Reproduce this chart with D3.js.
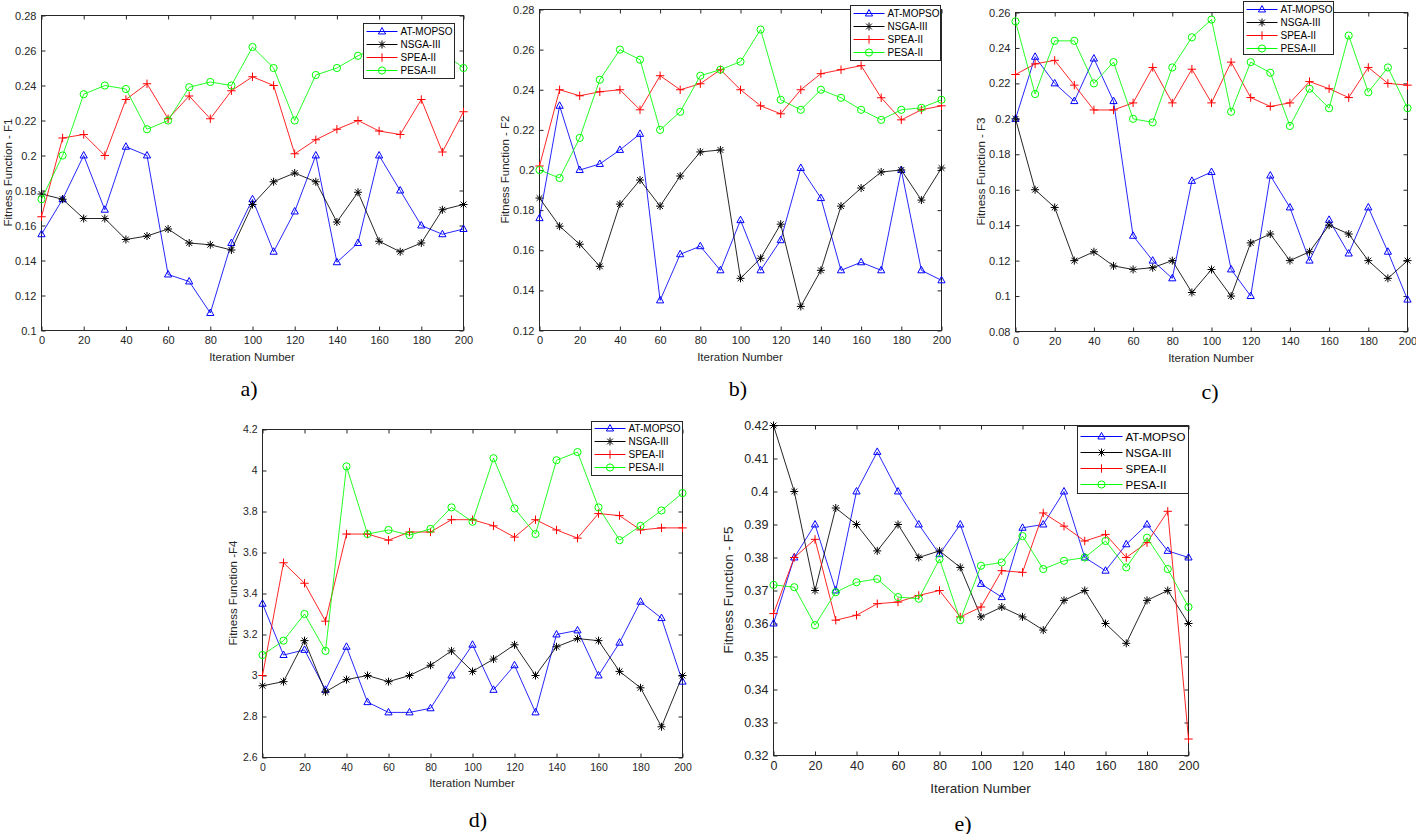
<!DOCTYPE html>
<html>
<head>
<meta charset="utf-8">
<script src="https://cdn.jsdelivr.net/npm/d3@7/dist/d3.min.js"></script>
<style>
  body { margin: 0; background: #fff; }
  svg { display: block; font-family: "Liberation Sans", Arial, sans-serif; }
</style>
</head>
<body>
<svg id="chart" width="1416" height="834"></svg>
<script>
// x axis: iteration numbers
var iterations = [0, 10, 20, 30, 40, 50, 60, 70, 80, 90, 100, 110, 120, 130, 140, 150, 160, 170, 180, 190, 200];
var xTicks = [0, 20, 40, 60, 80, 100, 120, 140, 160, 180, 200];

var seriesNames = ["AT-MOPSO", "NSGA-III", "SPEA-II", "PESA-II"];
var seriesColors = ["#0000ff", "#000000", "#ff0000", "#00ff00"];
var seriesMarkers = ["triangle", "asterisk", "plus", "circle"];

// a) F1
var f1AtMopso = [0.155, 0.175, 0.2, 0.169, 0.205, 0.2, 0.132, 0.128, 0.11, 0.15, 0.175, 0.145, 0.168, 0.2, 0.139, 0.15, 0.2, 0.18, 0.16, 0.155, 0.158];
var f1Nsga = [0.178, 0.175, 0.164, 0.164, 0.152, 0.154, 0.158, 0.15, 0.149, 0.146, 0.172, 0.185, 0.19, 0.185, 0.162, 0.179, 0.151, 0.145, 0.15, 0.169, 0.172];
var f1Spea = [0.165, 0.21, 0.212, 0.2, 0.232, 0.241, 0.221, 0.234, 0.221, 0.237, 0.245, 0.24, 0.201, 0.209, 0.215, 0.22, 0.214, 0.212, 0.232, 0.202, 0.225];
var f1Pesa = [0.175, 0.2, 0.235, 0.24, 0.238, 0.215, 0.22, 0.239, 0.242, 0.24, 0.262, 0.25, 0.22, 0.246, 0.25, 0.257, 0.262, 0.256, 0.26, 0.259, 0.25];
var f1Ticks = [0.1, 0.12, 0.14, 0.16, 0.18, 0.2, 0.22, 0.24, 0.26, 0.28];

// b) F2
var f2AtMopso = [0.176, 0.232, 0.2, 0.203, 0.21, 0.218, 0.135, 0.158, 0.162, 0.15, 0.175, 0.15, 0.165, 0.201, 0.186, 0.15, 0.154, 0.15, 0.2, 0.15, 0.145];
var f2Nsga = [0.186, 0.172, 0.163, 0.152, 0.183, 0.195, 0.182, 0.197, 0.209, 0.21, 0.146, 0.156, 0.173, 0.132, 0.15, 0.182, 0.191, 0.199, 0.2, 0.185, 0.201];
var f2Spea = [0.202, 0.24, 0.237, 0.239, 0.24, 0.23, 0.247, 0.24, 0.243, 0.25, 0.24, 0.232, 0.228, 0.24, 0.248, 0.25, 0.252, 0.236, 0.225, 0.23, 0.232];
var f2Pesa = [0.2, 0.196, 0.216, 0.245, 0.26, 0.255, 0.22, 0.229, 0.247, 0.25, 0.254, 0.27, 0.235, 0.23, 0.24, 0.236, 0.23, 0.225, 0.23, 0.231, 0.235];
var f2Ticks = [0.12, 0.14, 0.16, 0.18, 0.2, 0.22, 0.24, 0.26, 0.28];

// c) F3
var f3AtMopso = [0.2, 0.235, 0.22, 0.21, 0.234, 0.21, 0.134, 0.12, 0.11, 0.165, 0.17, 0.115, 0.1, 0.168, 0.15, 0.12, 0.143, 0.124, 0.15, 0.125, 0.098];
var f3Nsga = [0.2, 0.16, 0.15, 0.12, 0.125, 0.117, 0.115, 0.116, 0.12, 0.102, 0.115, 0.1, 0.13, 0.135, 0.12, 0.125, 0.14, 0.135, 0.12, 0.11, 0.12];
var f3Spea = [0.225, 0.231, 0.233, 0.219, 0.205, 0.205, 0.209, 0.229, 0.209, 0.228, 0.209, 0.232, 0.212, 0.207, 0.209, 0.221, 0.217, 0.212, 0.229, 0.22, 0.219];
var f3Pesa = [0.255, 0.214, 0.244, 0.244, 0.22, 0.232, 0.2, 0.198, 0.229, 0.246, 0.256, 0.204, 0.232, 0.226, 0.196, 0.217, 0.206, 0.247, 0.215, 0.229, 0.206];
var f3Ticks = [0.08, 0.1, 0.12, 0.14, 0.16, 0.18, 0.2, 0.22, 0.24, 0.26];

// d) F4
var f4AtMopso = [3.35, 3.1, 3.125, 2.93, 3.14, 2.87, 2.82, 2.82, 2.84, 3.0, 3.15, 2.93, 3.05, 2.82, 3.2, 3.22, 3.0, 3.16, 3.36, 3.28, 2.97];
var f4Nsga = [2.95, 2.97, 3.17, 2.92, 2.98, 3.0, 2.97, 3.0, 3.05, 3.12, 3.02, 3.08, 3.15, 3.0, 3.14, 3.18, 3.17, 3.02, 2.94, 2.75, 3.0];
var f4Spea = [3.0, 3.55, 3.45, 3.265, 3.69, 3.69, 3.66, 3.7, 3.7, 3.76, 3.76, 3.73, 3.675, 3.76, 3.71, 3.67, 3.79, 3.78, 3.71, 3.72, 3.72];
var f4Pesa = [3.1, 3.17, 3.3, 3.12, 4.02, 3.69, 3.71, 3.685, 3.715, 3.82, 3.75, 4.06, 3.815, 3.69, 4.05, 4.09, 3.82, 3.66, 3.73, 3.805, 3.89];
var f4Ticks = [2.6, 2.8, 3, 3.2, 3.4, 3.6, 3.8, 4, 4.2];

// e) F5
var f5AtMopso = [0.36, 0.38, 0.39, 0.37, 0.4, 0.412, 0.4, 0.39, 0.381, 0.39, 0.372, 0.368, 0.389, 0.39, 0.4, 0.38, 0.376, 0.384, 0.39, 0.382, 0.38];
var f5Nsga = [0.42, 0.4, 0.37, 0.395, 0.39, 0.382, 0.39, 0.38, 0.382, 0.377, 0.362, 0.365, 0.362, 0.358, 0.367, 0.37, 0.36, 0.354, 0.367, 0.37, 0.36];
var f5Spea = [0.363, 0.38, 0.3855, 0.361, 0.3625, 0.366, 0.3665, 0.3685, 0.37, 0.362, 0.365, 0.376, 0.3755, 0.3935, 0.3895, 0.385, 0.387, 0.38, 0.3845, 0.394, 0.325];
var f5Pesa = [0.3717, 0.371, 0.3595, 0.3695, 0.3725, 0.3735, 0.368, 0.3675, 0.3795, 0.361, 0.3775, 0.3785, 0.3865, 0.3765, 0.379, 0.38, 0.385, 0.377, 0.386, 0.3765, 0.365];
var f5Ticks = [0.32, 0.33, 0.34, 0.35, 0.36, 0.37, 0.38, 0.39, 0.4, 0.41, 0.42];

var axisColor = "#262626";
var svg = d3.select("#chart");

// panel layout (pixels), one entry per sub-figure
var panels = [
  { series: [f1AtMopso, f1Nsga, f1Spea, f1Pesa], yTicks: f1Ticks, yLabel: "Fitness Function - F1", caption: "a)",
    left: 41, top: 15, width: 422, height: 315, tickFs: 11, labelFs: 11.5, xLabelY: 357, yLabelX: 8, capX: 249, capY: 388,
    legend: { x: 363, y: 23, w: 91, h: 55, row0: 8, rowH: 13, fs: 10, lineW: 31 } },
  { series: [f2AtMopso, f2Nsga, f2Spea, f2Pesa], yTicks: f2Ticks, yLabel: "Fitness Function - F2", caption: "b)",
    left: 539, top: 9, width: 402, height: 321, tickFs: 11, labelFs: 11.5, xLabelY: 357, yLabelX: 505, capX: 738, capY: 388,
    legend: { x: 850, y: 5, w: 90, h: 55, row0: 8, rowH: 13, fs: 10, lineW: 31 } },
  { series: [f3AtMopso, f3Nsga, f3Spea, f3Pesa], yTicks: f3Ticks, yLabel: "Fitness Function - F3", caption: "c)",
    left: 1015, top: 12, width: 392, height: 319, tickFs: 11, labelFs: 11.5, xLabelY: 358, yLabelX: 981, capX: 1210, capY: 391,
    legend: { x: 1243, y: 1, w: 90, h: 53, row0: 8, rowH: 13, fs: 10, lineW: 31 } },
  { series: [f4AtMopso, f4Nsga, f4Spea, f4Pesa], yTicks: f4Ticks, yLabel: "Fitness Function -F4", caption: "d)",
    left: 262, top: 429, width: 420, height: 328, tickFs: 10.5, labelFs: 11.5, xLabelY: 783, yLabelX: 233, capX: 478, capY: 819,
    legend: { x: 591, y: 421, w: 91, h: 54, row0: 7, rowH: 13, fs: 10, lineW: 31 } },
  { series: [f5AtMopso, f5Nsga, f5Spea, f5Pesa], yTicks: f5Ticks, yLabel: "Fitness Function - F5", caption: "e)",
    left: 773, top: 425, width: 415, height: 330, tickFs: 12.5, labelFs: 13.5, xLabelY: 788, yLabelX: 728, capX: 963, capY: 823,
    legend: { x: 1077, y: 426, w: 111, h: 67, row0: 10, rowH: 16, fs: 11.5, lineW: 42 } }
];

function markerPath(type, r) {
  var a = r * 0.72;
  if (type === "triangle") return "M0," + (-r) + "L" + (r * 0.9) + "," + (r * 0.62) + "L" + (-r * 0.9) + "," + (r * 0.62) + "Z";
  if (type === "asterisk") return "M" + (-r) + ",0L" + r + ",0M0," + (-r) + "L0," + r +
    "M" + (-a) + "," + (-a) + "L" + a + "," + a + "M" + (-a) + "," + a + "L" + a + "," + (-a);
  if (type === "plus") return "M" + (-r) + ",0L" + r + ",0M0," + (-r) + "L0," + r;
  return null;
}

function drawMarker(sel, type, color) {
  if (type === "circle") {
    sel.append("circle").attr("r", 3.6).attr("fill", "none").attr("stroke", color).attr("stroke-width", 1);
  } else {
    var r = type === "plus" ? 4.2 : 4;
    sel.append("path").attr("d", markerPath(type, r)).attr("fill", "none").attr("stroke", color).attr("stroke-width", 1);
  }
}

function styleAxis(ax, fs) {
  ax.select(".domain").remove();
  ax.selectAll(".tick line").attr("stroke", axisColor);
  ax.selectAll(".tick text").attr("fill", axisColor).attr("font-size", fs).attr("font-family", "Liberation Sans, Arial, sans-serif");
}

function drawPanel(p) {
  var g = svg.append("g").attr("transform", "translate(" + (p.left + 0.5) + "," + (p.top + 0.5) + ")");
  var x = d3.scaleLinear().domain([0, 200]).range([0, p.width]);
  var y = d3.scaleLinear().domain([p.yTicks[0], p.yTicks[p.yTicks.length - 1]]).range([p.height, 0]);
  var fmt = function(v) { return String(+v.toFixed(3)); };

  var xb = g.append("g").attr("transform", "translate(0," + p.height + ")")
    .call(d3.axisBottom(x).tickValues(xTicks).tickSize(-4).tickPadding(6).tickFormat(d3.format("d")));
  styleAxis(xb, p.tickFs);
  var xt = g.append("g").call(d3.axisTop(x).tickValues(xTicks).tickSize(-4).tickFormat(""));
  styleAxis(xt, p.tickFs);
  var yl = g.append("g").call(d3.axisLeft(y).tickValues(p.yTicks).tickSize(-4).tickPadding(5).tickFormat(fmt));
  styleAxis(yl, p.tickFs);
  var yr = g.append("g").attr("transform", "translate(" + p.width + ",0)")
    .call(d3.axisRight(y).tickValues(p.yTicks).tickSize(-4).tickFormat(""));
  styleAxis(yr, p.tickFs);

  g.append("rect").attr("width", p.width).attr("height", p.height)
    .attr("fill", "none").attr("stroke", axisColor).attr("stroke-width", 1);

  var line = d3.line().x(function(d, i) { return x(iterations[i]); }).y(function(d) { return y(d); });

  p.series.forEach(function(vals, si) {
    g.append("path").datum(vals).attr("d", line)
      .attr("fill", "none").attr("stroke", seriesColors[si]).attr("stroke-width", 1).attr("stroke-opacity", 0.85);
    g.selectAll("g.m" + si).data(vals).enter().append("g").attr("class", "m" + si)
      .attr("transform", function(d, i) { return "translate(" + x(iterations[i]) + "," + y(d) + ")"; })
      .each(function() { drawMarker(d3.select(this), seriesMarkers[si], seriesColors[si]); });
  });

  // axis titles
  svg.append("text").attr("x", p.left + p.width / 2).attr("y", p.xLabelY)
    .attr("text-anchor", "middle").attr("dominant-baseline", "central")
    .attr("fill", axisColor).attr("font-size", p.labelFs).text("Iteration Number");
  svg.append("text").attr("transform", "translate(" + p.yLabelX + "," + (p.top + p.height / 2) + ") rotate(-90)")
    .attr("text-anchor", "middle").attr("dominant-baseline", "central")
    .attr("fill", axisColor).attr("font-size", p.labelFs).text(p.yLabel);

  // legend
  var lg = p.legend;
  var leg = svg.append("g").attr("transform", "translate(" + (lg.x + 0.5) + "," + (lg.y + 0.5) + ")");
  leg.append("rect").attr("width", lg.w).attr("height", lg.h)
    .attr("fill", "#fff").attr("stroke", axisColor).attr("stroke-width", 1);
  seriesNames.forEach(function(name, si) {
    var ry = lg.row0 + si * lg.rowH;
    leg.append("line").attr("x1", 3).attr("x2", 3 + lg.lineW).attr("y1", ry).attr("y2", ry)
      .attr("stroke", seriesColors[si]).attr("stroke-width", 1);
    drawMarker(leg.append("g").attr("transform", "translate(" + (3 + lg.lineW / 2) + "," + ry + ")"), seriesMarkers[si], seriesColors[si]);
    leg.append("text").attr("x", 6 + lg.lineW).attr("y", ry).attr("dominant-baseline", "central")
      .attr("fill", "#000").attr("font-size", lg.fs).text(name);
  });

  // sub-figure caption
  svg.append("text").attr("x", p.capX).attr("y", p.capY)
    .attr("text-anchor", "middle").attr("dominant-baseline", "central")
    .attr("font-family", "Liberation Serif, Times New Roman, serif").attr("font-size", 22)
    .attr("fill", "#000").text(p.caption);
}

panels.forEach(drawPanel);
</script>
</body>
</html>
